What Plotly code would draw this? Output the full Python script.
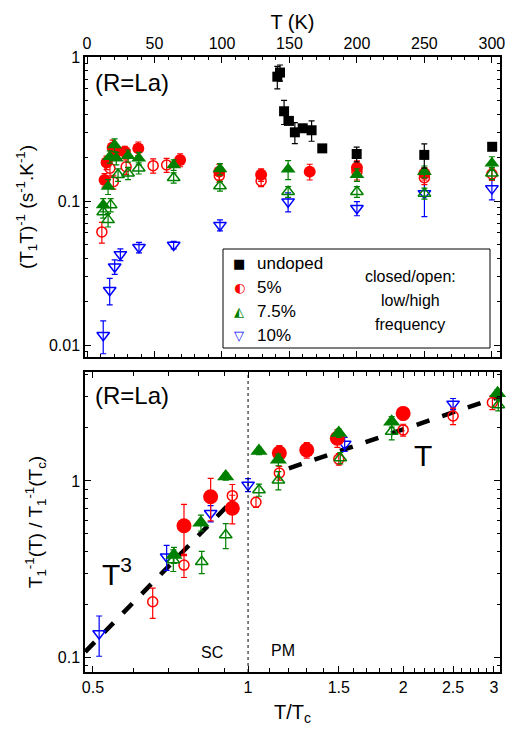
import plotly.graph_objects as go

# ---------------- data: top panel (T in K, (T1T)^-1 in s^-1 K^-1) ----------------
undoped_T = [141, 143, 146, 149.6, 154, 159.8, 166.4, 174.3, 199.8, 249.9, 300.2]
undoped_v = [0.73, 0.78, 0.42, 0.36, 0.30, 0.32, 0.31, 0.232, 0.212, 0.209, 0.238]
undoped_e = [0.13, 0.10, 0.08, 0.0, 0.05, 0.0, 0.05, 0.0, 0.025, 0.04, 0.0]

p5_low_T = [13, 14.5, 19, 22, 28, 38, 69, 98, 129, 165, 200, 250]
p5_low_v = [0.14, 0.185, 0.235, 0.22, 0.22, 0.232, 0.193, 0.16, 0.152, 0.16, 0.17, 0.155]
p5_low_e = [0.015, 0.02, 0.03, 0.02, 0.02, 0.025, 0.02, 0.02, 0.015, 0.02, 0.02, 0.015]

p5_high_T = [11, 17, 19.5, 29, 49, 59, 98, 129, 200, 250, 300]
p5_high_v = [0.061, 0.169, 0.136, 0.173, 0.176, 0.178, 0.15, 0.138, 0.16, 0.145, 0.154]
p5_high_e = [0.01, 0.02, 0.015, 0.02, 0.02, 0.02, 0.015, 0.012, 0.02, 0.015, 0.015]

p75_low_T = [12, 15.6, 16.8, 20.4, 21.7, 30.4, 38.3, 64.2, 98.5, 149, 200, 250, 300]
p75_low_v = [0.094, 0.126, 0.203, 0.245, 0.198, 0.206, 0.198, 0.178, 0.167, 0.166, 0.152, 0.16, 0.183]
p75_low_e = [0.01, 0.015, 0.02, 0.025, 0.02, 0.02, 0.02, 0.015, 0.015, 0.025, 0.015, 0.015, 0.02]

p75_high_T = [12, 15.6, 17.5, 23, 30.4, 38.3, 64.2, 98.5, 149, 200, 250, 300]
p75_high_v = [0.084, 0.074, 0.094, 0.152, 0.156, 0.169, 0.145, 0.127, 0.116, 0.116, 0.113, 0.156]
p75_high_e = [0.008, 0.008, 0.01, 0.015, 0.015, 0.015, 0.012, 0.01, 0.01, 0.01, 0.01, 0.015]

p10_T = [12, 16.8, 20.5, 24.7, 38.5, 64.2, 98.5, 149, 200, 250, 300]
p10_v = [0.0117, 0.024, 0.035, 0.0426, 0.0477, 0.0495, 0.068, 0.099, 0.089, 0.113, 0.122]
p10_e = [0.003, 0.005, 0.004, 0.004, 0.004, 0.003, 0.006, 0.015, 0.01, 0.035, 0.02]

# ---------------- data: bottom panel (T/Tc, normalized 1/T1) ----------------
b10_x = [0.514, 0.695, 0.846, 1.0, 1.54, 2.50]
b10_y = [0.136, 0.371, 0.655, 0.95, 1.62, 2.74]
b10_e = [0.035, 0.06, 0.07, 0.08, 0.15, 0.2]

b5_low_x = [0.751, 0.846, 0.932, 1.15, 1.30, 1.49, 2.0]
b5_low_y = [0.557, 0.814, 0.70, 1.44, 1.50, 1.75, 2.42]
b5_low_e = [0.18, 0.22, 0.13, 0.15, 0.15, 0.2, 0.2]

b5_high_x = [0.653, 0.751, 0.932, 1.036, 1.15, 1.50, 2.0, 2.5, 2.98]
b5_high_y = [0.206, 0.333, 0.825, 0.757, 1.11, 1.33, 1.95, 2.34, 2.79]
b5_high_e = [0.04, 0.05, 0.13, 0.05, 0.1, 0.1, 0.15, 0.25, 0.25]

b75_low_x = [0.718, 0.81, 0.905, 1.05, 1.145, 1.50, 1.90, 3.05]
b75_low_y = [0.38, 0.58, 1.06, 1.48, 1.32, 1.87, 2.17, 3.15]
b75_low_e = [0.04, 0.06, 0.05, 0.07, 0.1, 0.1, 0.15, 0.15]

b75_high_x = [0.716, 0.813, 0.905, 1.05, 1.145, 1.51, 1.90, 3.06]
b75_high_y = [0.356, 0.348, 0.493, 0.889, 1.01, 1.35, 1.91, 2.70]
b75_high_e = [0.05, 0.05, 0.08, 0.07, 0.12, 0.1, 0.2, 0.2]

fit_T3_x = [0.483, 0.915]
fit_T3_y = [0.107, 0.73]
fit_T_x = [1.2, 3.1]
fit_T_y = [1.18, 3.04]

top_xticks = [0, 50, 100, 150, 200, 250, 300]
top_yticks = [0.01, 0.1, 1]
bot_xticks = [0.5, 1, 1.5, 2, 2.5, 3]
bot_yticks = [0.1, 1]

# ---------------- figure ----------------
W, H = 506, 738
L, R, T, B = 85, 6, 57, 66
FONT = "Liberation Sans, Arial, sans-serif"
RED, GREEN, BLUE = "#ff0000", "#008000", "#0000ff"

def px(x):
    return (x - L) / (W - L - R)

def py(y):
    return (H - B - y) / (H - T - B)

fig = go.Figure()

def add(x, y, e, xa, ya, symbol, color, size, lw=1.5):
    fig.add_trace(go.Scatter(
        x=x, y=y, mode="markers", xaxis=xa, yaxis=ya, showlegend=False,
        cliponaxis=False,
        marker=dict(symbol=symbol, color=color, size=size, line=dict(color=color, width=lw)),
        error_y=dict(type="data", array=e, color=color, thickness=1.2, width=3),
    ))

# top panel
add(p10_T, p10_v, p10_e, "x", "y", "triangle-down-open", BLUE, 11)
add(p5_high_T, p5_high_v, p5_high_e, "x", "y", "circle-open", RED, 10)
add(p75_high_T, p75_high_v, p75_high_e, "x", "y", "triangle-up-open", GREEN, 11)
add(p5_low_T, p5_low_v, p5_low_e, "x", "y", "circle", RED, 12, 0)
add(p75_low_T, p75_low_v, p75_low_e, "x", "y", "triangle-up", GREEN, 13, 0)
add(undoped_T, undoped_v, undoped_e, "x", "y", "square", "black", 10, 0)

# bottom panel fits
fig.add_trace(go.Scatter(x=fit_T3_x, y=fit_T3_y, mode="lines", xaxis="x2", yaxis="y2",
                         showlegend=False, line=dict(color="black", width=4.5, dash="dash")))
fig.add_trace(go.Scatter(x=fit_T_x, y=fit_T_y, mode="lines", xaxis="x2", yaxis="y2",
                         showlegend=False, cliponaxis=True,
                         line=dict(color="black", width=4.5, dash="dash")))

add(b10_x, b10_y, b10_e, "x2", "y2", "triangle-down-open", BLUE, 11)
add(b5_high_x, b5_high_y, b5_high_e, "x2", "y2", "circle-open", RED, 10)
add(b75_high_x, b75_high_y, b75_high_e, "x2", "y2", "triangle-up-open", GREEN, 11)
add(b5_low_x, b5_low_y, b5_low_e, "x2", "y2", "circle", RED, 15, 0)
add(b75_low_x, b75_low_y, b75_low_e, "x2", "y2", "triangle-up", GREEN, 15, 0)

axis_common = dict(showline=True, linecolor="black", linewidth=1.5, mirror="allticks",
                   ticks="inside", ticklen=6, tickwidth=1.2, tickcolor="black",
                   showgrid=False, zeroline=False, automargin=False,
                   tickfont=dict(family=FONT, size=16, color="black"))

top_dom = [py(357), 1.0]
bot_dom = [0.0, py(372)]

minor_top_y = [k * 10.0 ** d for d in (-3, -2, -1) for k in range(2, 10)]
minor_bot_y = [k * 10.0 ** d for d in (-2, -1, 0) for k in range(2, 10)]
minor_bot_x = [0.6, 0.7, 0.8, 0.9, 1.1, 1.2, 1.3, 1.4, 1.6, 1.7, 1.8, 1.9,
               2.1, 2.2, 2.3, 2.4, 2.6, 2.7, 2.8, 2.9, 3.1]

fig.update_layout(
    width=W, height=H, margin=dict(l=L, r=R, t=T, b=B, autoexpand=False),
    paper_bgcolor="white", plot_bgcolor="white",
    font=dict(family=FONT, color="black"),
    xaxis=dict(axis_common, domain=[0, 1], anchor="y", side="top", range=[-1.5, 306],
               tickmode="array", tickvals=top_xticks, ticktext=[str(v) for v in top_xticks],
               minor=dict(dtick=10, ticks="inside", ticklen=3, tickcolor="black", showgrid=False),
               title=dict(text="T (K)", font=dict(family=FONT, size=20), standoff=0)),
    yaxis=dict(axis_common, domain=top_dom, anchor="x", type="log", range=[-2.083, 0],
               tickmode="array", tickvals=top_yticks, ticktext=["0.01", "0.1", "1"],
               minor=dict(tickmode="array", tickvals=minor_top_y, ticks="inside", ticklen=3,
                          tickcolor="black", showgrid=False),
               title=dict(text="(T<sub>1</sub>T)<sup>-1</sup> (s<sup>-1</sup>.K<sup>-1</sup>)",
                          font=dict(family=FONT, size=19), standoff=10)),
    xaxis2=dict(axis_common, domain=[0, 1], anchor="y2", type="log", range=[-0.3165, 0.489],
                tickmode="array", tickvals=bot_xticks, ticktext=["0.5", "1", "1.5", "2", "2.5", "3"],
                minor=dict(tickmode="array", tickvals=minor_bot_x, ticks="inside", ticklen=4,
                           tickcolor="black", showgrid=False),
                title=dict(text="T/T<sub>c</sub>", font=dict(family=FONT, size=20), standoff=10)),
    yaxis2=dict(axis_common, domain=bot_dom, anchor="x2", type="log", range=[-1.085, 0.619],
                tickmode="array", tickvals=bot_yticks, ticktext=["0.1", "1"],
                minor=dict(tickmode="array", tickvals=minor_bot_y, ticks="inside", ticklen=3,
                           tickcolor="black", showgrid=False),
                title=dict(text="T<sub>1</sub><sup>-1</sup>(T) / T<sub>1</sub><sup>-1</sup>(T<sub>c</sub>)",
                           font=dict(family=FONT, size=19), standoff=10)),
)

# dotted vertical line at T = Tc
fig.add_shape(type="line", xref="x2", yref="y2 domain", x0=1, x1=1, y0=0, y1=1,
              line=dict(color="black", width=1, dash="dot"))

def note(text, x, y, size, xanchor="center"):
    fig.add_annotation(text=text, xref="paper", yref="paper", x=px(x), y=py(y),
                       xanchor=xanchor, yanchor="middle", showarrow=False,
                       font=dict(family=FONT, size=size, color="black"))

note("(R=La)", 93, 82, 24, "left")
note("(R=La)", 93, 395, 24, "left")
note("T<sup>3</sup>", 100, 572, 30, "left")
note("T", 423, 455, 30)
note("SC", 212, 652, 16)
note("PM", 283, 650, 16)

# legend box (manual, to show half-filled symbols)
fig.add_shape(type="rect", xref="paper", yref="paper", x0=px(223), x1=px(490), y0=py(348), y1=py(249),
              line=dict(color="black", width=1), fillcolor="white", layer="above")
leg_rows = [("■", "black", "undoped", 263), ("◐", RED, "5%", 287.5),
            ("◭", GREEN, "7.5%", 311), ("▽", BLUE, "10%", 335)]
for sym, col, lab, yy in leg_rows:
    fig.add_annotation(text=sym, xref="paper", yref="paper", x=px(239), y=py(yy),
                       showarrow=False, xanchor="center", yanchor="middle",
                       font=dict(family="DejaVu Sans", size=13, color=col))
    note(lab, 255, yy, 17, "left")
note("closed/open:", 410, 276, 16)
note("low/high", 410, 300, 16)
note("frequency", 410, 324, 16)

fig.write_html("out.html", config={"displayModeBar": False},
               post_script="document.body.style.margin='0px';")
